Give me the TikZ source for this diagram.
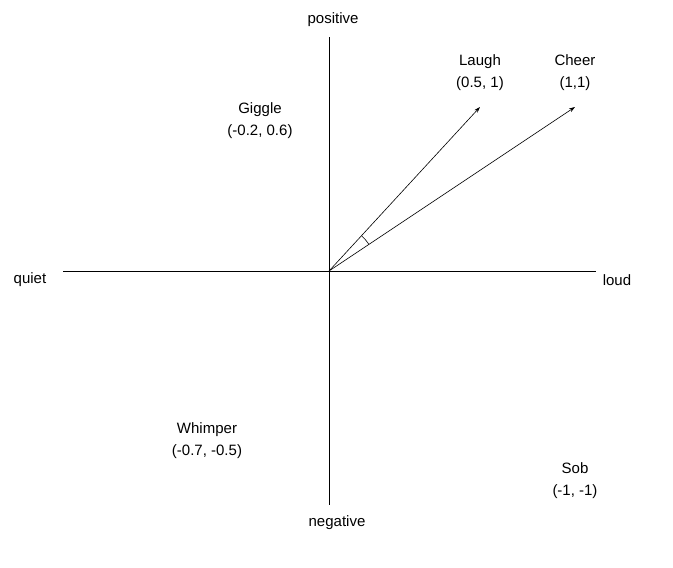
\documentclass[tikz,border=0pt]{standalone}
\usepackage{fontspec}
\setmainfont{Liberation Sans}
\usetikzlibrary{arrows.meta}
\begin{document}
\begin{tikzpicture}[x=1pt,y=-1pt,
  lbl/.style={font=\fontsize{15}{22}\selectfont, align=center},
  axis/.style={line width=0.8pt},
  vec/.style={line width=0.6pt,-{Stealth[length=6pt,width=4pt]}}]
\useasboundingbox (0,0) rectangle (673,568);
\coordinate (o) at (329,271);
\coordinate (l) at (63,271);
\coordinate (r) at (596,271);
\coordinate (t) at (329,37);
\coordinate (b) at (329,505);
\coordinate (la) at (480,107);
\coordinate (ch) at (575,107);
\draw[axis] (l) -- (r);
\draw[axis] (t) -- (b);
\draw[vec] (o) -- (la);
\draw[vec] (o) -- (ch);
\draw[line width=0.6pt] (o) ++(-33.7:48) arc[start angle=-33.7,end angle=-47.4,radius=48];
\node[lbl] (pos) at (333,20) {positive};
\node[lbl] (neg) at (337,523) {negative};
\node[lbl] (qu) at (30,280) {quiet};
\node[lbl] (lo) at (617,280) {loud};
\node[lbl] (laugh) at (480,73) {Laugh\\(0.5, 1)};
\node[lbl] (cheer) at (575,73) {Cheer\\(1,1)};
\node[lbl] (gig) at (260,121) {Giggle\\(-0.2, 0.6)};
\node[lbl] (whi) at (207,441) {Whimper\\(-0.7, -0.5)};
\node[lbl] (sob) at (575,481) {Sob\\(-1, -1)};
\end{tikzpicture}
\end{document}
